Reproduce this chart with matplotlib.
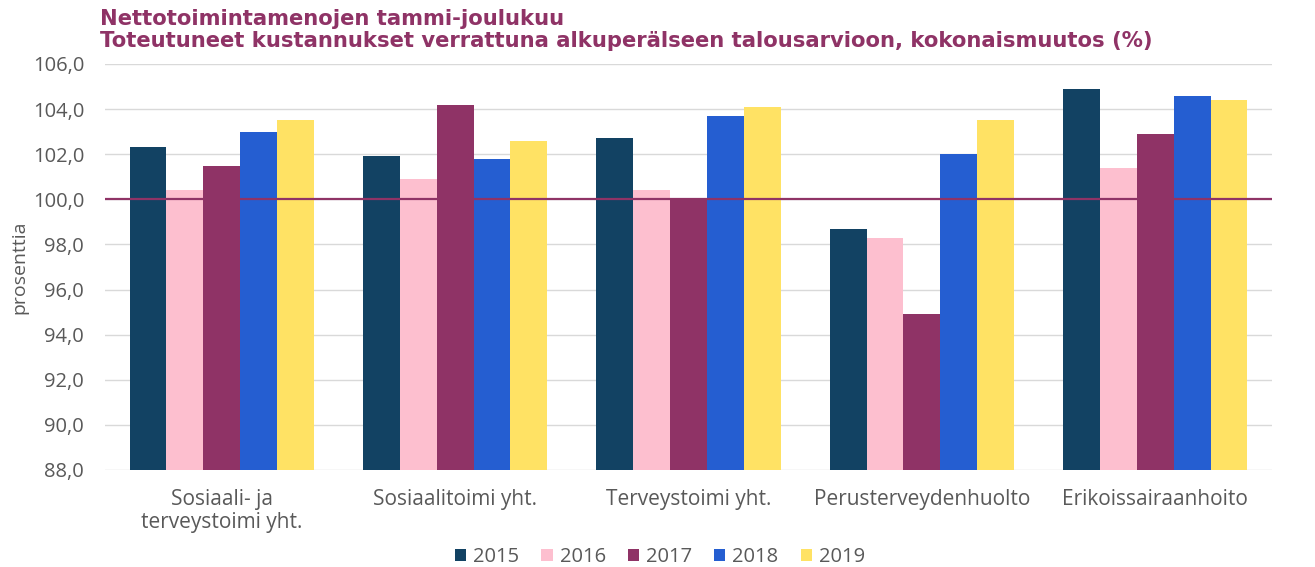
import matplotlib

matplotlib.use("Agg")
import matplotlib.pyplot as plt
import numpy as np
from matplotlib.ticker import FuncFormatter

categories = [
    "Sosiaali- ja\nterveystoimi yht.",
    "Sosiaalitoimi yht.",
    "Terveystoimi yht.",
    "Perusterveydenhuolto",
    "Erikoissairaanhoito",
]
years = ["2015", "2016", "2017", "2018", "2019"]
values_2015 = [102.3, 101.9, 102.7, 98.7, 104.9]
values_2016 = [100.4, 100.9, 100.4, 98.3, 101.4]
values_2017 = [101.5, 104.2, 100.05, 94.9, 102.9]
values_2018 = [103.0, 101.8, 103.7, 102.0, 104.6]
values_2019 = [103.5, 102.6, 104.1, 103.5, 104.4]
colors = ["#124263", "#fdbfcf", "#8f3366", "#255ed1", "#ffe264"]
title = "Nettotoimintamenojen tammi-joulukuu\nToteutuneet kustannukset verrattuna alkuperälseen talousarvioon, kokonaismuutos (%)"

plt.rcParams["font.family"] = ["Open Sans", "DejaVu Sans"]
text_color = "#595959"

fig = plt.figure(figsize=(13.15, 5.67), dpi=100)
ax = fig.add_axes([105 / 1315, 1 - 470 / 567, (1272 - 105) / 1315, (470 - 64) / 567])

series = [values_2015, values_2016, values_2017, values_2018, values_2019]
x = np.arange(len(categories))
width = 0.158
for i, (year, vals) in enumerate(zip(years, series)):
    offset = (i - 2) * width
    ax.bar(x + offset, np.array(vals) - 88, width=width, bottom=88, color=colors[i], label=year, zorder=2)

ax.axhline(100, color="#8f3366", linewidth=1.6, zorder=3)

ax.set_ylim(88, 106)
ax.set_xlim(-0.5, len(categories) - 0.5)
ax.set_yticks(np.arange(88, 106.1, 2))
ax.yaxis.set_major_formatter(FuncFormatter(lambda v, _: f"{v:.1f}".replace(".", ",")))
ax.grid(axis="y", color="#d9d9d9", linewidth=1, zorder=0)
ax.set_xticks(x, labels=categories)
for s in ax.spines.values():
    s.set_visible(False)
ax.tick_params(axis="y", length=0, labelsize=14.5, colors=text_color, pad=15)
ax.tick_params(axis="x", length=0, labelsize=15, colors=text_color, pad=14)
for lbl in ax.get_xticklabels():
    lbl.set_linespacing(1.1)
ax.set_ylabel("prosenttia", fontsize=14, color=text_color, labelpad=3)

fig.text(100 / 1315, 1 - 9 / 567, title, ha="left", va="top", fontsize=15.2,
         family="DejaVu Sans", fontweight="bold", color="#8f3366", linespacing=1.1)

ax.legend(loc="center", bbox_to_anchor=(660 / 1315, 1 - 557 / 567), bbox_transform=fig.transFigure,
          ncol=5, frameon=False, fontsize=14.5, handlelength=0.55, handleheight=0.55,
          handletextpad=0.35, columnspacing=1.1, labelcolor=text_color)

fig.savefig("out.png", dpi=100)
